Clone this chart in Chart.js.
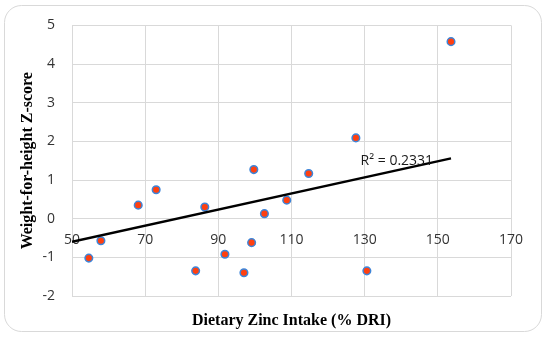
<!DOCTYPE html>
<html>
<head>
<meta charset="utf-8">
<script src="https://cdn.jsdelivr.net/npm/chart.js@4"></script>
<style>
  body { margin: 0; background: #fff; }
</style>
</head>
<body>
<canvas id="chart" width="550" height="339"></canvas>
<script>
// Values
const zincIntake = [54.6, 57.9, 68.1, 73.0, 83.8, 86.3, 91.8, 97.0, 99.1, 99.7, 102.6, 108.7, 114.7, 127.6, 130.6, 153.6];
const whzScore = [-1.02, -0.57, 0.35, 0.75, -1.35, 0.30, -0.92, -1.40, -0.62, 1.27, 0.13, 0.48, 1.17, 2.09, -1.35, 4.58];
const trendX = [50, 153.6];
const trendY = [-0.60, 1.56];
const xTicks = [50, 70, 90, 110, 130, 150, 170];
const yTicks = [-2, -1, 0, 1, 2, 3, 4, 5];
const rSquaredText = 'R² = 0.2331';
const rSquaredAt = { x: 138.8, y: 1.5 };

const gridColor = '#d9d9d9';
const tickFont = { family: '"Open Sans", sans-serif', size: 14 };
const titleFont = { family: '"Liberation Serif", serif', size: 16, weight: 'bold' };

// Rounded frame round the whole chart
const framePlugin = {
    id: 'frame',
    beforeDraw(chart) {
        const ctx = chart.ctx;
        ctx.save();
        ctx.fillStyle = '#fff';
        ctx.fillRect(0, 0, chart.width, chart.height);
        ctx.strokeStyle = '#d9d9d9';
        ctx.lineWidth = 1;
        ctx.beginPath();
        ctx.roundRect(4.5, 5.5, 537, 326, 17);
        ctx.stroke();
        ctx.restore();
    }
};

// R² label next to the trendline
const rSquaredPlugin = {
    id: 'rSquared',
    afterDatasetsDraw(chart) {
        const ctx = chart.ctx;
        const x = chart.scales.x.getPixelForValue(rSquaredAt.x);
        const y = chart.scales.y.getPixelForValue(rSquaredAt.y);
        ctx.save();
        ctx.font = '14px "Open Sans", sans-serif';
        ctx.fillStyle = '#1a1a1a';
        ctx.textAlign = 'center';
        ctx.textBaseline = 'middle';
        ctx.fillText(rSquaredText, x, y);
        ctx.restore();
    }
};

const ctx = document.getElementById('chart').getContext('2d');
new Chart(ctx, {
    data: {
        datasets: [{
            type: 'line',
            data: trendX.map((x, i) => ({ x, y: trendY[i] })),
            borderColor: '#000',
            borderWidth: 2.5,
            pointRadius: 0,
            order: 0
        }, {
            type: 'scatter',
            data: zincIntake.map((x, i) => ({ x, y: whzScore[i] })),
            backgroundColor: '#ff4010',
            borderColor: '#3d85d9',
            borderWidth: 1.5,
            pointRadius: 3.8,
            order: 1
        }]
    },
    options: {
        responsive: false,
        animation: false,
        layout: { padding: { left: 0, right: 39, top: 24, bottom: 0 } },
        plugins: {
            legend: { display: false },
            tooltip: { enabled: false }
        },
        scales: {
            x: {
                type: 'linear',
                position: { y: 0 },
                min: 50,
                max: 170,
                afterBuildTicks: s => { s.ticks = xTicks.map(v => ({ value: v })); },
                grid: { color: gridColor, drawTicks: false },
                border: { display: false },
                ticks: { font: tickFont, color: '#333', padding: 13 }
            },
            xTitle: {
                type: 'linear',
                position: 'bottom',
                grid: { display: false },
                border: { display: false },
                ticks: { display: false },
                afterFit: s => { s.height = 43; },
                title: {
                    display: true,
                    text: 'Dietary Zinc Intake (% DRI)',
                    font: titleFont,
                    color: '#000',
                    padding: { top: 0, bottom: 9 }
                }
            },
            y: {
                type: 'linear',
                min: -2,
                max: 5,
                afterBuildTicks: s => { s.ticks = yTicks.map(v => ({ value: v })); },
                afterFit: s => { s.width = 72; },
                grid: { color: gridColor, drawTicks: false },
                border: { display: false },
                ticks: { font: tickFont, color: '#333', padding: 17 },
                title: {
                    display: true,
                    text: 'Weight-for-height Z-score',
                    font: titleFont,
                    color: '#000',
                    padding: { top: 18, bottom: 0 }
                }
            }
        }
    },
    plugins: [framePlugin, rSquaredPlugin]
});
</script>
</body>
</html>
